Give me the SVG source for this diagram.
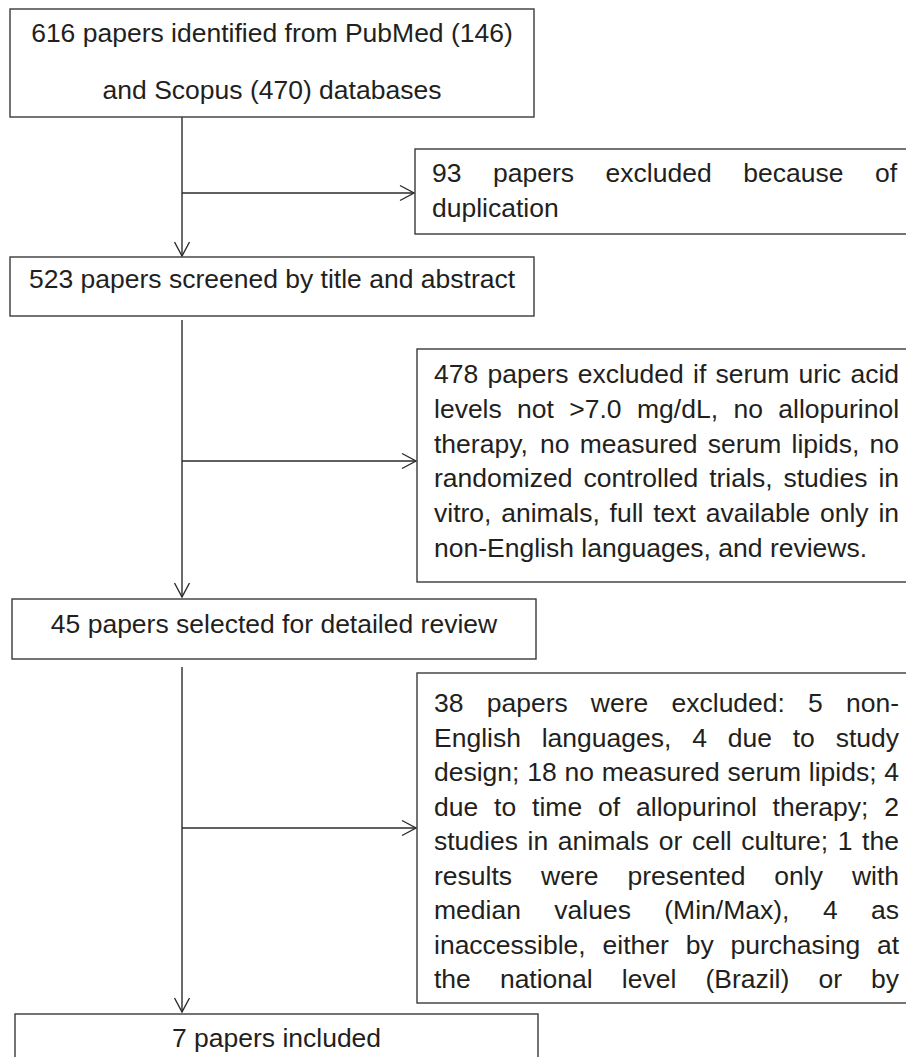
<svg xmlns="http://www.w3.org/2000/svg" width="906" height="1057" viewBox="0 0 906 1057">
<defs>
<style>
.box{fill:#ffffff;stroke:#3a3a3a;stroke-width:1.4}
.t{font-family:"Liberation Sans",Arial,sans-serif;font-size:26.5px;fill:#231f20}
.c{text-anchor:middle}
.edge{fill:none;stroke:#2b2b2b;stroke-width:1.4}
</style>
<marker id="ah" markerUnits="userSpaceOnUse" viewBox="-16 -10 18 20" markerWidth="18" markerHeight="20" refX="0" refY="0" orient="auto">
<path d="M-14,-7.5 L0,0 L-14,7.5" fill="none" stroke="#2b2b2b" stroke-width="1.4"/>
</marker>
</defs>
<rect width="906" height="1057" fill="#ffffff"/>
<g id="connectors">
<path class="edge" d="M182 117 V256" marker-end="url(#ah)"/>
<path class="edge" d="M182 193 H414" marker-end="url(#ah)"/>
<path class="edge" d="M182 320 V597" marker-end="url(#ah)"/>
<path class="edge" d="M182 461 H416" marker-end="url(#ah)"/>
<path class="edge" d="M182 667 V1012" marker-end="url(#ah)"/>
<path class="edge" d="M182 828 H416" marker-end="url(#ah)"/>
</g>
<g id="n1">
<rect class="box" x="10" y="9" width="524" height="108"/>
<text class="t c" x="272" y="42">616 papers identified from PubMed (146)</text>
<text class="t c" x="272" y="99">and Scopus (470) databases</text>
</g>
<g id="n2">
<rect class="box" x="415" y="149" width="500" height="85"/>
<text class="t" y="182"><tspan x="432">93</tspan><tspan x="493">papers</tspan><tspan x="605.6">excluded</tspan><tspan x="743.2">because</tspan><tspan x="874.9">of</tspan></text>
<text class="t" x="432" y="217">duplication</text>
</g>
<g id="n3">
<rect class="box" x="10" y="257" width="524" height="59"/>
<text class="t c" x="272" y="288">523 papers screened by title and abstract</text>
</g>
<g id="n4">
<rect class="box" x="417" y="349" width="500" height="233"/>
<text class="t" y="383"><tspan x="434">478</tspan><tspan x="487.5">papers</tspan><tspan x="577.7">excluded</tspan><tspan x="693">if</tspan><tspan x="715.6">serum</tspan><tspan x="798.4">uric</tspan><tspan x="850.4">acid</tspan></text>
<text class="t" y="417.8"><tspan x="434">levels</tspan><tspan x="517.1">not</tspan><tspan x="569.3">&gt;7.0</tspan><tspan x="637">mg/dL,</tspan><tspan x="733.4">no</tspan><tspan x="778.3">allopurinol</tspan></text>
<text class="t" y="452.6"><tspan x="434">therapy,</tspan><tspan x="540">no</tspan><tspan x="579.7">measured</tspan><tspan x="707.7">serum</tspan><tspan x="791.6">lipids,</tspan><tspan x="869.5">no</tspan></text>
<text class="t" y="487.4"><tspan x="434">randomized</tspan><tspan x="583.4">controlled</tspan><tspan x="709.2">trials,</tspan><tspan x="783.5">studies</tspan><tspan x="878.4">in</tspan></text>
<text class="t" y="522.2"><tspan x="434">vitro,</tspan><tspan x="501.2">animals,</tspan><tspan x="609.6">full</tspan><tspan x="653.2">text</tspan><tspan x="705.7">available</tspan><tspan x="820">only</tspan><tspan x="878.4">in</tspan></text>
<text class="t" x="434" y="557">non-English languages, and reviews.</text>
</g>
<g id="n5">
<rect class="box" x="12" y="599" width="524" height="60"/>
<text class="t c" x="274" y="633">45 papers selected for detailed review</text>
</g>
<g id="n6">
<rect class="box" x="417" y="673" width="500" height="330"/>
<text class="t" y="712"><tspan x="434">38</tspan><tspan x="486.7">papers</tspan><tspan x="590.8">were</tspan><tspan x="671.5">excluded:</tspan><tspan x="808">5</tspan><tspan x="846">non-</tspan></text>
<text class="t" y="746.5"><tspan x="434">English</tspan><tspan x="541.7">languages,</tspan><tspan x="692.2">4</tspan><tspan x="727.7">due</tspan><tspan x="792.7">to</tspan><tspan x="835.7">study</tspan></text>
<text class="t" y="781"><tspan x="434">design;</tspan><tspan x="527.2">18</tspan><tspan x="564.5">no</tspan><tspan x="601.8">measured</tspan><tspan x="727.4">serum</tspan><tspan x="808.8">lipids;</tspan><tspan x="884.3">4</tspan></text>
<text class="t" y="815.5"><tspan x="434">due</tspan><tspan x="494.1">to</tspan><tspan x="532.1">time</tspan><tspan x="598">of</tspan><tspan x="636">allopurinol</tspan><tspan x="772.6">therapy;</tspan><tspan x="884.2">2</tspan></text>
<text class="t" y="850"><tspan x="434">studies</tspan><tspan x="527.6">in</tspan><tspan x="557.8">animals</tspan><tspan x="658.7">or</tspan><tspan x="691.9">cell</tspan><tspan x="741.3">culture;</tspan><tspan x="837.8">1</tspan><tspan x="862.1">the</tspan></text>
<text class="t" y="884.5"><tspan x="434">results</tspan><tspan x="541">were</tspan><tspan x="627.5">presented</tspan><tspan x="774.3">only</tspan><tspan x="851.9">with</tspan></text>
<text class="t" y="919"><tspan x="434">median</tspan><tspan x="554.3">values</tspan><tspan x="664.3">(Min/Max),</tspan><tspan x="822.9">4</tspan><tspan x="871">as</tspan></text>
<text class="t" y="953.5"><tspan x="434">inaccessible,</tspan><tspan x="602.5">either</tspan><tspan x="685.7">by</tspan><tspan x="730.5">purchasing</tspan><tspan x="876.9">at</tspan></text>
<text class="t" y="988"><tspan x="434">the</tspan><tspan x="499.9">national</tspan><tspan x="621.8">level</tspan><tspan x="705.4">(Brazil)</tspan><tspan x="818.4">or</tspan><tspan x="871">by</tspan></text>
</g>
<g id="n7">
<rect class="box" x="15" y="1014" width="523" height="60"/>
<text class="t c" x="276.5" y="1047">7 papers included</text>
</g>
</svg>
